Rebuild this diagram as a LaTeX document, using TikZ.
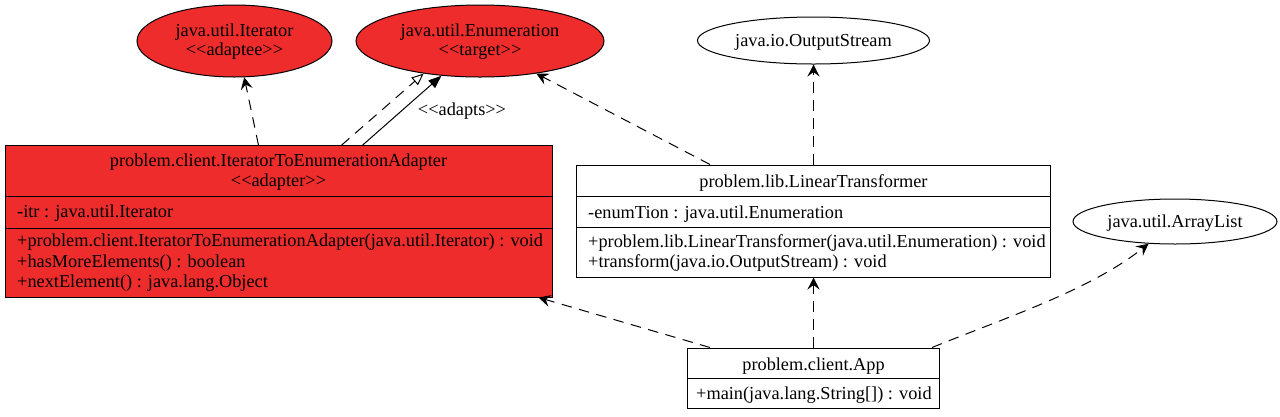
\documentclass[tikz,border=0pt]{standalone}
\usepackage{fontspec}
\setmainfont{Liberation Serif}[Ligatures=TeXOff]
\usetikzlibrary{arrows.meta,shapes.geometric}
\definecolor{fbred}{RGB}{238,44,44}
\begin{document}
\begin{tikzpicture}[x=1pt,y=-1pt,
  txt/.style={inner sep=0pt,font=\fontsize{18.3}{20.5}\selectfont},
  ctxt/.style={txt,anchor=base},
  ltxt/.style={txt,anchor=base west},
  classbox/.style={draw,line width=1pt,rectangle,inner sep=0pt},
  ifacebox/.style={draw,line width=1pt,ellipse,inner sep=0pt},
  veetip/.style={-{Stealth[length=12pt,width=12pt,inset=4.5pt]}},
  depline/.style={line width=1pt,dash pattern=on 10.5pt off 7.5pt,veetip},
  implline/.style={line width=1pt,dash pattern=on 10.5pt off 7.5pt,-{Triangle[open,length=12pt,width=10pt]}},
  assocline/.style={line width=1pt,-{Triangle[length=13pt,width=10pt]}}
]
\useasboundingbox (0,0) rectangle (1280,416);

% ellipses
\node[ifacebox,fill=fbred,minimum width=195pt,minimum height=72pt] (iter) at (234.5,41) {};
\node[ctxt] (iterT1) at (234.5,36) {java.util.Iterator};
\node[ctxt] (iterT2) at (234.5,55.5) {<<adaptee>>};

\node[ifacebox,fill=fbred,minimum width=248pt,minimum height=72pt] (enum) at (480,41) {};
\node[ctxt] (enumT1) at (480,36) {java.util.Enumeration};
\node[ctxt] (enumT2) at (480,55.5) {<<target>>};

\node[ifacebox,fill=white,minimum width=232pt,minimum height=47pt] (out) at (813.5,40.5) {};
\node[ctxt] (outT) at (813.5,46.5) {java.io.OutputStream};

\node[ifacebox,fill=white,minimum width=204pt,minimum height=45pt] (alist) at (1175,221.5) {};
\node[ctxt] (alistT) at (1175,227) {java.util.ArrayList};

% adapter class
\node[classbox,fill=fbred,minimum width=547pt,minimum height=151.3pt] (adapter) at (278.5,221.35) {};
\draw[line width=1pt] (5,196) -- (552,196);
\draw[line width=1pt] (5,228) -- (552,228);
\node[ctxt] (adT1) at (278.5,166.5) {problem.client.IteratorToEnumerationAdapter};
\node[ctxt] (adT2) at (278.5,186) {<<adapter>>};
\node[ltxt] (adA1) at (17,217) {-itr : java.util.Iterator};
\node[ltxt] (adM1) at (17,246.5) {+problem.client.IteratorToEnumerationAdapter(java.util.Iterator) : void};
\node[ltxt] (adM2) at (17,267) {+hasMoreElements() : boolean};
\node[ltxt] (adM3) at (17,287.5) {+nextElement() : java.lang.Object};

% linear transformer class
\node[classbox,fill=white,minimum width=474pt,minimum height=112pt] (lt) at (813.5,221) {};
\draw[line width=1pt] (576.5,196.5) -- (1050.5,196.5);
\draw[line width=1pt] (576.5,227) -- (1050.5,227);
\node[ctxt] (ltT) at (813.5,187) {problem.lib.LinearTransformer};
\node[ltxt] (ltA1) at (588,218) {-enumTion : java.util.Enumeration};
\node[ltxt] (ltM1) at (588,247) {+problem.lib.LinearTransformer(java.util.Enumeration) : void};
\node[ltxt] (ltM2) at (588,267.5) {+transform(java.io.OutputStream) : void};

% app class
\node[classbox,fill=white,minimum width=252pt,minimum height=60pt] (app) at (813.5,378) {};
\draw[line width=1pt] (687.5,378.5) -- (939.5,378.5);
\node[ctxt] (appT) at (813.5,370) {problem.client.App};
\node[ltxt] (appM1) at (696,399) {+main(java.lang.String[]) : void};

% connectors
\draw[depline] ([xshift=254pt]adapter.north west) -- (iter.-75);
\draw[implline] ([xshift=337pt]adapter.north west) -- (enum.210);
\draw[assocline] ([xshift=358pt]adapter.north west) -- (enum.222);
\node[ctxt] (adaptsL) at (462,115.5) {<<adapts>>};
\draw[depline] ([xshift=134pt]lt.north west) -- (enum.-30);
\draw[depline] (lt.north) -- (out.south);
\draw[depline] ([xshift=23pt]app.north west) -- ([xshift=-14pt]adapter.south east);
\draw[depline] (app.north) -- (lt.south);
\draw[depline] ([xshift=-8pt]app.north east) .. controls (1010,316) and (1090,290) .. (alist.220);
\end{tikzpicture}
\end{document}
